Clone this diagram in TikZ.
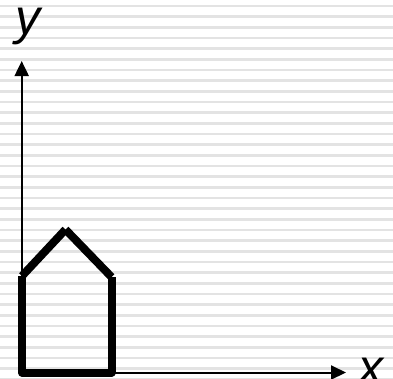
\documentclass[tikz,border=0pt]{standalone}
\usepackage{fontspec}
\setmainfont{Liberation Sans}
\usetikzlibrary{arrows.meta}
\begin{document}
\begin{tikzpicture}[x=1pt,y=-1pt,
  stripe/.style={draw=black!11,line width=2.6pt},
  axisline/.style={draw=black,line width=2pt,-{Triangle[length=15pt,width=14pt]}},
  housewall/.style={draw=black,line width=8pt,line join=round,line cap=butt},
  axlabel/.style={font=\fontsize{50}{60}\selectfont\itshape,inner sep=0pt,anchor=base,text height=26pt,text depth=10pt}]
\useasboundingbox (0,0) rectangle (393,378);
\fill[white] (0,0) rectangle (393,378);
\foreach \k in {0,...,35}{
  \draw[stripe] (0,{6+\k*10.667}) -- (393,{6+\k*10.667});
}
% axes
\coordinate (O) at (21.7,372.5);
\coordinate (Xend) at (346,372.5);
\coordinate (Yend) at (21.7,61);
\draw[axisline] (O) -- (Xend);
\draw[axisline] (O) -- (Yend);
\node[axlabel] (ylab) at (27.5,34) {y};
\node[axlabel] (xlab) at (370.5,384) {x};
% house
\coordinate (A) at (22,372.5);
\coordinate (B) at (22,276);
\coordinate (C) at (65.5,229.5);
\coordinate (D) at (111.5,277);
\coordinate (E) at (111.5,372.5);
\draw[housewall] (B) -- (A) -- (E) -- (D);
\draw[housewall] (B) -- (C);
\draw[housewall] (C) -- (D);
\end{tikzpicture}
\end{document}
